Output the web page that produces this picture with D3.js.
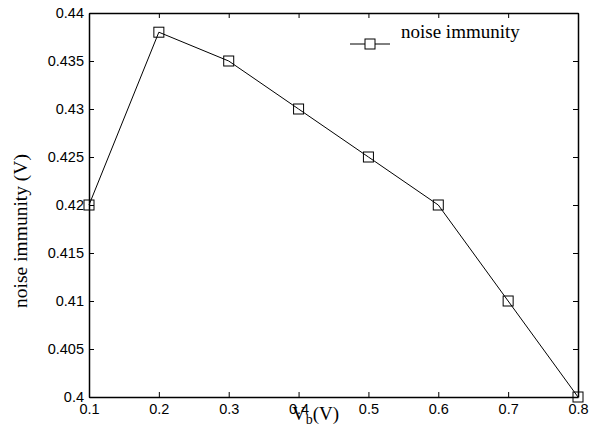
<!DOCTYPE html>
<html>
<head>
<meta charset="utf-8">
<script src="https://cdn.jsdelivr.net/npm/d3@7"></script>
<style>
    body { margin: 0; background: #fff; }
    .tick text { font-family: "Liberation Sans", Arial, sans-serif; font-size: 14.5px; fill: #000; }
</style>
</head>
<body>
<div class="chart"></div>
<script>

// Data
var vb = [0.1, 0.2, 0.3, 0.4, 0.5, 0.6, 0.7, 0.8];
var noiseImmunity = [0.42, 0.438, 0.435, 0.43, 0.425, 0.42, 0.41, 0.4];
var xTicks = [0.1, 0.2, 0.3, 0.4, 0.5, 0.6, 0.7, 0.8];
var yTicks = [0.4, 0.405, 0.41, 0.415, 0.42, 0.425, 0.43, 0.435, 0.44];
var seriesName = "noise immunity";

var width = 590, height = 428;
var margin = {top: 13, right: 12, bottom: 31, left: 89};
var w = width - margin.left - margin.right;
var h = height - margin.top - margin.bottom;

var svg = d3.select(".chart")
    .append("svg")
        .attr("width", width)
        .attr("height", height);

var g = svg.append("g")
    .attr("transform", "translate(" + margin.left + "," + margin.top + ")");

// Scales
var x = d3.scaleLinear().domain([0.1, 0.8]).range([0, w]);
var y = d3.scaleLinear().domain([0.4, 0.44]).range([h, 0]);

var fmt = function(d) { return String(+d.toFixed(3)); };

// Axes: ticks point inward on all four sides
g.append("g")
    .attr("transform", "translate(0," + h + ")")
    .call(d3.axisBottom(x).tickValues(xTicks).tickFormat(fmt).tickSizeInner(-5).tickSizeOuter(0).tickPadding(7));

g.append("g")
    .call(d3.axisTop(x).tickValues(xTicks).tickFormat("").tickSizeInner(-5).tickSizeOuter(0));

g.append("g")
    .call(d3.axisLeft(y).tickValues(yTicks).tickFormat(fmt).tickSizeInner(-5).tickSizeOuter(0).tickPadding(5));

g.append("g")
    .attr("transform", "translate(" + w + ",0)")
    .call(d3.axisRight(y).tickValues(yTicks).tickFormat("").tickSizeInner(-5).tickSizeOuter(0));

g.selectAll(".domain").attr("stroke", "#000").attr("stroke-width", 1.5);
g.selectAll(".tick line").attr("stroke", "#000");

// Line
var line = d3.line()
    .x(function(d, i) { return x(vb[i]); })
    .y(function(d) { return y(d); });

g.append("path")
    .datum(noiseImmunity)
    .attr("fill", "none")
    .attr("stroke", "#000")
    .attr("stroke-width", 1)
    .attr("d", line);

// Square markers
var ms = 10;
g.selectAll(".marker")
    .data(noiseImmunity)
    .enter().append("rect")
        .attr("class", "marker")
        .attr("x", function(d, i) { return x(vb[i]) - ms / 2; })
        .attr("y", function(d) { return y(d) - ms / 2; })
        .attr("width", ms)
        .attr("height", ms)
        .attr("fill", "none")
        .attr("stroke", "#000")
        .attr("stroke-width", 1);

// Legend
var legend = svg.append("g").attr("transform", "translate(350,44)");
legend.append("line")
    .attr("x1", 0).attr("x2", 40)
    .attr("stroke", "#000");
legend.append("rect")
    .attr("x", 20 - ms / 2).attr("y", -ms / 2)
    .attr("width", ms).attr("height", ms)
    .attr("fill", "#fff").attr("stroke", "#000");
legend.append("text")
    .attr("x", 51).attr("y", -6)
    .style("font-family", "'Liberation Serif', 'Times New Roman', serif")
    .style("font-size", "19px")
    .text(seriesName);

// Axis labels
var xl = svg.append("text")
    .attr("x", 292).attr("y", 420)
    .style("font-family", "'Liberation Serif', 'Times New Roman', serif")
    .style("font-size", "19px");
xl.append("tspan").text("V");
xl.append("tspan").attr("dy", 4).style("font-size", "14px").text("b");
xl.append("tspan").attr("dy", -4).text("(V)");

svg.append("text")
    .attr("transform", "translate(27," + 231 + ") rotate(-90)")
    .attr("text-anchor", "middle")
    .style("font-family", "'Liberation Serif', 'Times New Roman', serif")
    .style("font-size", "19.5px")
    .text("noise immunity (V)");

</script>
</body>
</html>
